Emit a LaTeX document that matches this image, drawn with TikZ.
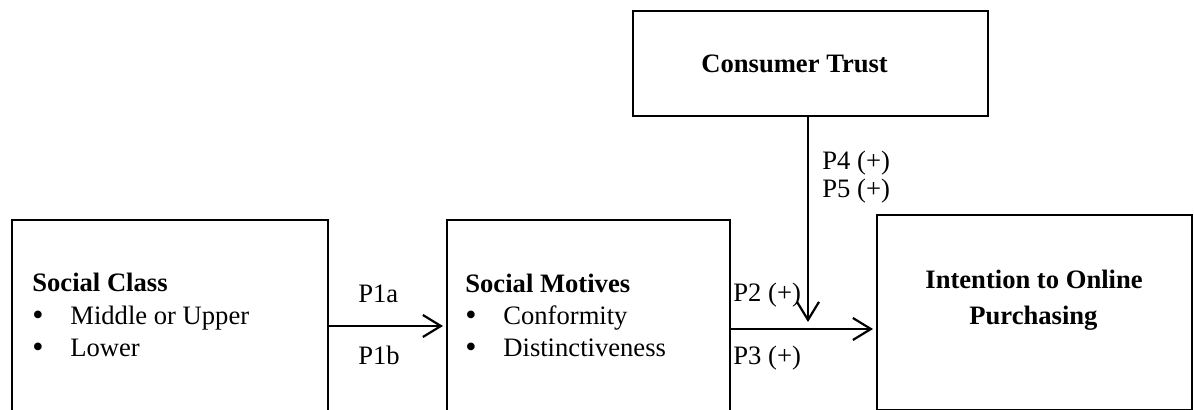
\documentclass[tikz,border=0pt]{standalone}
\usepackage{fontspec}
\setmainfont{Liberation Serif}
\usetikzlibrary{arrows.meta}
\begin{document}
\begin{tikzpicture}[x=0.5pt,y=-0.5pt,
  box/.style={draw,line width=1.1pt,rectangle,inner sep=0pt,anchor=north west},
  conn/.style={line width=1.1pt,shorten >=1.5pt,-{Straight Barb[length=9pt,width=11pt,line width=1.1pt]}},
  txt/.style={font=\fontsize{13.3}{15}\selectfont,inner sep=0pt,anchor=base west},
  ttl/.style={txt,font=\fontsize{13.3}{15}\selectfont\bfseries},
  bul/.style={inner sep=0pt,anchor=base west,font=\fontsize{16}{16}\selectfont}]
\useasboundingbox (0,0) rectangle (1194,410);
\clip (0,0) rectangle (1194,410);
% boxes
\node[box,minimum width=158pt,minimum height=110pt] (sc) at (11,219) {};
\node[box,minimum width=141.5pt,minimum height=110pt] (sm) at (446,219) {};
\node[box,minimum width=157.5pt,minimum height=97.5pt] (io) at (876,214) {};
\node[box,minimum width=177.5pt,minimum height=52.5pt] (ct) at (632,10) {};
% texts
\node[ttl] (sct) at (32,292) {Social Class};
\node[bul] (scb1) at (32,326) {•};
\node[txt] (sc1) at (70,325) {Middle or Upper};
\node[bul] (scb2) at (32,358) {•};
\node[txt] (sc2) at (70,357) {Lower};
\node[ttl] (smt) at (465,293) {Social Motives};
\node[bul] (smb1) at (465,326) {•};
\node[txt] (sm1) at (503,325) {Conformity};
\node[bul] (smb2) at (465,358) {•};
\node[txt] (sm2) at (503,357) {Distinctiveness};
\node[ttl] (ctt) at (701,73) {Consumer Trust};
\node[ttl] (io1) at (925,289) {Intention to Online};
\node[ttl] (io2) at (969,325) {Purchasing};
% labels
\node[txt] (p1a) at (358,303) {P1a};
\node[txt] (p1b) at (358,365) {P1b};
\node[txt] (p2) at (733,302) {P2 (+)};
\node[txt] (p3) at (733,365) {P3 (+)};
\node[txt] (p4) at (822,170) {P4 (+)};
\node[txt] (p5) at (822,198) {P5 (+)};
% connectors
\coordinate (y1) at (0,326);
\coordinate (y2) at (0,329);
\coordinate (tip) at (808,322);
\draw[conn] (sc.east |- y1) -- (sm.west |- y1);
\draw[conn] (sm.east |- y2) -- (io.west |- y2);
\draw[conn,shorten >=0pt] (ct.south -| tip) -- (tip);
\end{tikzpicture}
\end{document}
